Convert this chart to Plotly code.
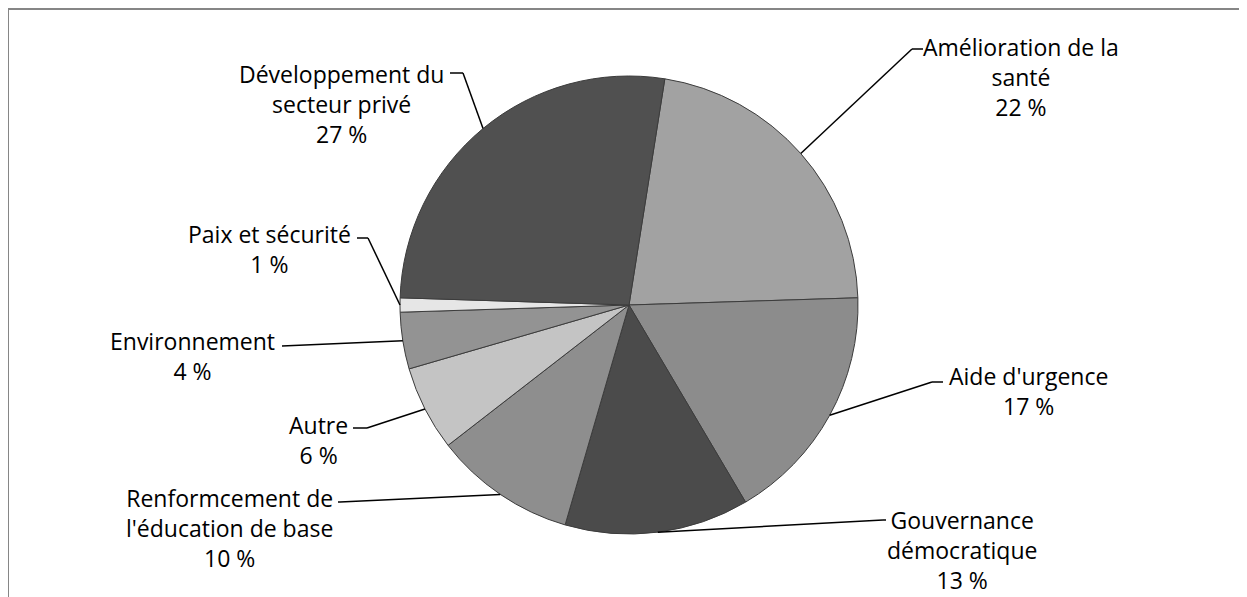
import math
import plotly.graph_objects as go

# ---- data ----
categories = [
    "Amélioration de la<br>santé",
    "Aide d'urgence",
    "Gouvernance<br>démocratique",
    "Renformcement de<br>l'éducation de base",
    "Autre",
    "Environnement",
    "Paix et sécurité",
    "Développement du<br>secteur privé",
]
values = [22, 17, 13, 10, 6, 4, 1, 27]
colors = ["#a2a2a2", "#8c8c8c", "#4b4b4b", "#8e8e8e", "#c4c4c4", "#939393", "#e6e6e6", "#505050"]

# ---- layout constants (pixels in the reference page) ----
W, H = 1247, 597
OFF = 8  # page body margin
CX, CY, R = 629, 305, 229
ROT = 9  # degrees clockwise from 12 o'clock

# label layout: text centre (x, y), elbow (x, y), end of horizontal segment x
label_layout = [
    ((1021, 77), (912, 49), 923),
    ((1028, 391), (932, 382), 943),
    ((962, 550), (883, 520), 886),
    ((229, 528), (340, 502), 338),
    ((318, 440), (367, 428), 353),
    ((192, 356), (282, 346), 282),
    ((269, 249), (368, 238), 357),
    ((341, 104), (463, 73), 450),
]


def px(x):
    return (x - OFF) / W


def py(y):
    return 1 - (y - OFF) / H


fig = go.Figure()
fig.add_trace(go.Pie(
    values=values,
    labels=[c.replace("<br>", " ") for c in categories],
    sort=False,
    direction="clockwise",
    rotation=ROT,
    marker=dict(colors=colors, line=dict(color="#3c3c3c", width=1)),
    textinfo="none",
    hoverinfo="label+percent",
    showlegend=False,
    domain=dict(x=[px(CX - R), px(CX + R)], y=[py(CY + R), py(CY - R)]),
))

total = sum(values)
shapes = []
annotations = []
cum = 0
for cat, val, (tc, elbow, endx) in zip(categories, values, label_layout):
    mid = ROT + (cum + val / 2) / total * 360
    cum += val
    a = math.radians(mid)
    sx = CX + R * math.sin(a)
    sy = CY - R * math.cos(a)
    shapes.append(dict(type="line", xref="paper", yref="paper",
                       x0=px(sx), y0=py(sy), x1=px(elbow[0]), y1=py(elbow[1]),
                       line=dict(color="black", width=1.5)))
    shapes.append(dict(type="line", xref="paper", yref="paper",
                       x0=px(elbow[0]), y0=py(elbow[1]), x1=px(endx), y1=py(elbow[1]),
                       line=dict(color="black", width=1.5)))
    pct = round(val / total * 100)
    annotations.append(dict(
        x=px(tc[0]), y=py(tc[1]), xref="paper", yref="paper",
        xanchor="center", yanchor="middle", align="center",
        text=f"{cat}<br>{pct} %", showarrow=False,
        font=dict(family="Open Sans", size=23, color="black"),
    ))

# chart frame (top and left edges visible)
shapes.append(dict(type="line", xref="paper", yref="paper",
                   x0=px(8), y0=py(9), x1=px(W + 20), y1=py(9),
                   line=dict(color="#868686", width=2)))
shapes.append(dict(type="line", xref="paper", yref="paper",
                   x0=px(8), y0=py(9), x1=px(8), y1=py(H + 20),
                   line=dict(color="#868686", width=2)))

fig.update_layout(
    width=W, height=H,
    margin=dict(l=0, r=0, t=0, b=0),
    paper_bgcolor="white",
    plot_bgcolor="white",
    shapes=shapes,
    annotations=annotations,
)

fig.write_html("out.html")
